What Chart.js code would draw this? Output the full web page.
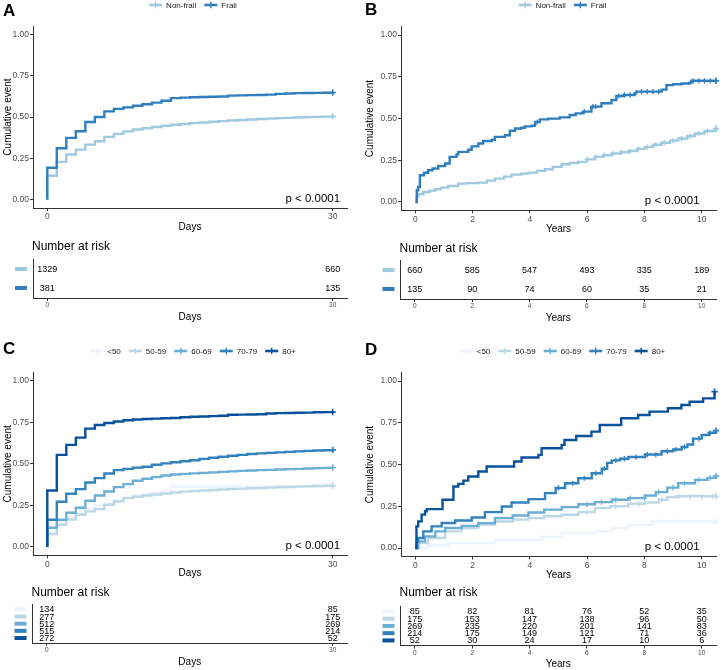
<!DOCTYPE html>
<html><head><meta charset="utf-8">
<script src="https://cdn.jsdelivr.net/npm/chart.js@4.4.1/dist/chart.umd.min.js"></script>
<style>
html,body{margin:0;padding:0;background:#fff;}
body{width:723px;height:670px;position:relative;overflow:hidden;}
canvas{position:absolute;}
</style></head><body>
<canvas id="mA"></canvas><canvas id="tA"></canvas>
<canvas id="mB"></canvas><canvas id="tB"></canvas>
<canvas id="mC"></canvas><canvas id="tC"></canvas>
<canvas id="mD"></canvas><canvas id="tD"></canvas>
<script>
// ---------------- DATA ----------------
const groupsFrailty = ['Non-frail', 'Frail'];
const groupsAge = ['<50', '50-59', '60-69', '70-79', '80+'];
const colorsFrailty = ['#9ecae1', '#2f7fbf'];
const colorsAge = ['#eff3ff', '#bdd7e7', '#6baed6', '#3182bd', '#08519c'];
const yTicks = [0, 0.25, 0.5, 0.75, 1];
const daysTicks = [0, 30];
const yearsTicks = [0, 2, 4, 6, 8, 10];
const pvalText = 'p < 0.0001';

// Panel A: 30-day cumulative event by frailty
const aTimes = [0,0,1,2,3,4,5,6,7,8,9,10,11,12,13,14,15,16,17,18,19,20,21,22,23,24,25,26,27,28,29,30];
const aNonFrail = [0,0.145,0.229,0.273,0.303,0.333,0.353,0.380,0.398,0.413,0.424,0.432,0.440,0.447,0.453,0.458,0.463,0.467,0.471,0.475,0.479,0.482,0.485,0.488,0.490,0.493,0.495,0.497,0.499,0.501,0.502,0.504];
const aFrail = [0,0.193,0.311,0.374,0.414,0.470,0.500,0.534,0.549,0.558,0.568,0.577,0.587,0.598,0.614,0.617,0.619,0.621,0.622,0.624,0.629,0.631,0.632,0.633,0.635,0.640,0.642,0.644,0.645,0.646,0.647,0.648];

// Panel B: long-term cumulative event by frailty
const bNonFrailTimes = [0,0.05,0.1,0.28,0.5,0.69,0.9,1.15,1.5,1.8,2.2,2.5,2.78,3.1,3.36,3.7,3.95,4.25,4.53,4.8,5.11,5.4,5.69,6.0,6.27,6.55,6.86,7.15,7.44,7.75,8.02,8.3,8.6,8.9,9.18,9.5,9.77,10.1,10.5];
const bNonFrail = [0,0.03,0.046,0.06,0.068,0.076,0.086,0.096,0.11,0.113,0.116,0.128,0.14,0.152,0.164,0.17,0.176,0.186,0.196,0.21,0.226,0.233,0.24,0.255,0.27,0.28,0.29,0.298,0.305,0.318,0.33,0.343,0.355,0.368,0.38,0.395,0.41,0.425,0.44];
const bFrailTimes = [0,0.05,0.1,0.16,0.3,0.45,0.6,0.8,1.04,1.2,1.44,1.5,1.85,1.97,2.2,2.37,2.67,2.78,3.13,3.3,3.48,3.7,3.83,4.06,4.18,4.35,4.64,5.04,5.39,5.6,5.85,6.15,6.5,6.85,7.02,7.3,7.66,7.72,8.6,8.77,9.0,9.3,9.58,9.64,10.5];
const bFrail = [0,0.07,0.09,0.16,0.175,0.19,0.2,0.215,0.23,0.27,0.285,0.30,0.313,0.333,0.35,0.365,0.373,0.39,0.40,0.427,0.44,0.445,0.453,0.457,0.479,0.495,0.499,0.507,0.521,0.531,0.541,0.571,0.591,0.611,0.635,0.641,0.651,0.661,0.673,0.70,0.705,0.71,0.714,0.726,0.726];
const bNonFrailCensorTimes = [6.0,6.3,6.6,6.9,7.2,7.5,7.8,8.1,8.4,8.7,9.0,9.3,9.6,9.9,10.2,10.5];
const bNonFrailCensor = [0.255,0.27,0.28,0.29,0.298,0.305,0.318,0.33,0.343,0.355,0.368,0.38,0.395,0.41,0.425,0.44];
const bFrailCensorTimes = [4.25,5.9,6.2,6.3,7.1,7.3,7.5,7.9,8.1,8.3,8.5,9.7,9.9,10.1,10.3,10.5];
const bFrailCensor = [0.479,0.541,0.571,0.571,0.635,0.641,0.641,0.661,0.661,0.661,0.661,0.726,0.726,0.726,0.726,0.726];

// Panel C: 30-day cumulative event by age group
const cTimes = [0,0,1,2,3,4,5,6,7,8,9,10,11,12,13,14,15,16,17,18,19,20,21,22,23,24,25,26,27,28,29,30];
const cLt50 = [0,0.090,0.150,0.180,0.200,0.230,0.250,0.260,0.280,0.300,0.310,0.320,0.330,0.340,0.365,0.365,0.365,0.365,0.365,0.365,0.365,0.365,0.365,0.365,0.365,0.365,0.365,0.365,0.365,0.365,0.365,0.365];
const c50to59 = [0,0.078,0.134,0.165,0.194,0.214,0.228,0.254,0.274,0.294,0.302,0.310,0.316,0.322,0.328,0.333,0.337,0.340,0.343,0.346,0.349,0.351,0.353,0.355,0.357,0.359,0.361,0.363,0.365,0.367,0.368,0.370];
const c60to69 = [0,0.116,0.164,0.206,0.236,0.278,0.310,0.334,0.360,0.378,0.398,0.410,0.420,0.430,0.436,0.440,0.443,0.446,0.449,0.452,0.455,0.458,0.460,0.462,0.464,0.466,0.468,0.470,0.472,0.474,0.476,0.478];
const c70to79 = [0,0.164,0.272,0.320,0.348,0.388,0.414,0.442,0.462,0.470,0.477,0.483,0.495,0.503,0.510,0.516,0.522,0.530,0.537,0.543,0.549,0.554,0.559,0.563,0.566,0.569,0.572,0.575,0.578,0.580,0.582,0.584];
const c80plus = [0,0.340,0.554,0.614,0.658,0.712,0.734,0.746,0.755,0.762,0.767,0.770,0.772,0.774,0.776,0.780,0.783,0.785,0.787,0.789,0.795,0.796,0.797,0.798,0.803,0.805,0.806,0.807,0.808,0.810,0.811,0.812];

// Panel D: long-term cumulative event by age group
const dLt50Times = [0,0.45,1.15,2.78,4.41,5.11,6.27,6.86,7.44,8.25,10.5];
const dLt50 = [0,0.014,0.03,0.05,0.066,0.09,0.1,0.12,0.139,0.159,0.159];
const d50to59Times = [0,0.1,0.45,1.04,1.62,2.2,2.78,3.4,3.95,4.5,5.11,5.7,6.27,6.8,7.44,8.02,8.5,8.8,9.1,10.5];
const d50to59 = [0,0.03,0.06,0.10,0.12,0.14,0.159,0.17,0.179,0.19,0.199,0.215,0.239,0.25,0.265,0.273,0.289,0.305,0.31,0.31];
const d60to69Times = [0,0.1,0.34,0.7,1.04,1.62,2.2,2.78,3.4,3.95,4.5,5.11,5.69,6.27,6.86,7.44,8.02,8.4,8.8,9.18,9.77,10.2,10.5];
const d60to69 = [0,0.04,0.07,0.1,0.12,0.133,0.149,0.179,0.195,0.213,0.23,0.245,0.262,0.275,0.289,0.299,0.315,0.335,0.362,0.388,0.408,0.42,0.432];
const d70to79Times = [0,0.05,0.1,0.28,0.57,0.92,1.39,1.97,2.43,3.02,3.36,3.95,4.53,4.9,5.23,5.69,6.16,6.51,6.7,6.86,7.15,7.44,8.02,8.6,9.0,9.3,9.5,9.7,10.0,10.25,10.5];
const d70to79 = [0,0.04,0.06,0.1,0.13,0.15,0.165,0.183,0.215,0.249,0.273,0.293,0.329,0.36,0.388,0.418,0.448,0.475,0.51,0.525,0.535,0.545,0.56,0.58,0.59,0.605,0.62,0.655,0.677,0.69,0.703];
const d80plusTimes = [0,0.04,0.1,0.22,0.34,0.4,0.95,1.33,1.5,1.68,1.85,2.2,2.49,3.45,3.71,4.3,4.41,5.11,5.21,5.62,6.15,6.44,7.19,7.78,8.18,8.82,9.29,9.58,10.05,10.45];
const d80plus = [0,0.13,0.16,0.2,0.22,0.233,0.289,0.369,0.384,0.404,0.428,0.458,0.488,0.518,0.542,0.558,0.598,0.618,0.647,0.671,0.697,0.737,0.777,0.797,0.817,0.837,0.857,0.876,0.896,0.936];
const dLt50CensorTimes = [7.0,7.8,8.6,9.2,9.8,10.4];
const dLt50Censor = [0.12,0.139,0.159,0.159,0.159,0.159];
const d50to59CensorTimes = [6.0,7.0,7.8,8.6,9.2,9.6,10.0,10.4];
const d50to59Censor = [0.215,0.25,0.265,0.289,0.31,0.31,0.31,0.31];
const d60to69CensorTimes = [6.0,6.5,7.0,7.5,8.0,8.5,9.0,9.4,9.9,10.3];
const d60to69Censor = [0.262,0.275,0.289,0.299,0.299,0.335,0.362,0.388,0.408,0.42];
const d70to79CensorTimes = [5.0,5.5,5.9,6.3,6.6,7.0,7.3,7.7,8.1,8.4,8.8,9.1,9.4,9.9,10.3];
const d70to79Censor = [0.36,0.388,0.418,0.448,0.475,0.525,0.535,0.545,0.56,0.56,0.58,0.59,0.605,0.655,0.69];

// Numbers at risk
const riskDaysTimes = [0, 30];
const riskYearsTimes = [0, 2, 4, 6, 8, 10];
const riskA = [[1329, 660], [381, 135]];
const riskB = [[660, 585, 547, 493, 335, 189], [135, 90, 74, 60, 35, 21]];
const riskC = [[134, 85], [277, 175], [512, 269], [515, 214], [272, 52]];
const riskD = [[85, 82, 81, 76, 52, 35], [175, 153, 147, 138, 96, 50], [269, 235, 220, 201, 141, 83], [214, 175, 149, 121, 71, 36], [52, 30, 24, 17, 10, 6]];

// ---------------- RENDERING ----------------
const FONT = '"Liberation Sans", Arial, Helvetica, sans-serif';
Chart.defaults.font.family = FONT;
const AXIS = '#333333';
const TICKTXT = '#4d4d4d';

function place(id, left, top, w, h) {
  const cv = document.getElementById(id);
  cv.width = w; cv.height = h;
  cv.style.left = left + 'px'; cv.style.top = top + 'px';
  cv.style.width = w + 'px'; cv.style.height = h + 'px';
  return cv;
}
const pts = (t, v) => t.map((x, i) => ({ x: x, y: v[i] }));

function xScale(p, tickSize, titleY, h) {
  return {
    type: 'linear', min: p.xMin, max: p.xMax,
    afterBuildTicks: s => { s.ticks = p.xTicks.map(v => ({ value: v })); },
    afterFit: s => { s.height = h - p.area.b; },
    grid: { display: true, drawOnChartArea: false, drawTicks: true, tickLength: 3, color: AXIS, lineWidth: 1 },
    border: { display: true, color: AXIS, width: 1 },
    ticks: { font: { size: tickSize }, color: TICKTXT, padding: tickSize < 8 ? 0.5 : 1, maxRotation: 0, autoSkip: false },
    title: { display: true, text: p.xTitle, font: { size: 10 }, color: '#000', padding: { top: 0, bottom: Math.max(0, h - titleY - 6) } }
  };
}

function makeMain(p) {
  const cv = place(p.id, p.left, p.top, p.w, p.h);
  const n = p.series.length;
  const datasets = p.series.map((s, i) => ({
    type: 'line', label: s.label, data: pts(s.t, s.v),
    borderColor: s.color, backgroundColor: s.color, borderWidth: 2.4, stepped: 'before', fill: false,
    pointStyle: 'cross', pointRadius: ctx => (ctx.dataIndex === s.t.length - 1 ? 3.2 : 0),
    pointBorderColor: s.color, pointBorderWidth: 1.6, pointHoverRadius: 0,
    order: 2 * (n - i), clip: 4
  }));
  (p.censors || []).forEach(c => datasets.push({
    type: 'scatter', label: '', data: pts(c.t, c.v), showLine: false,
    pointStyle: 'cross', pointRadius: 2.6, pointBorderColor: c.color, borderColor: c.color,
    pointBorderWidth: 1.3, pointHoverRadius: 0, order: 2 * (n - c.idx) - 1, clip: 4
  }));
  const extras = {
    id: 'extras_' + p.id,
    afterDraw(chart) {
      const ctx = chart.ctx, ca = chart.chartArea;
      ctx.save();
      // panel letter
      ctx.fillStyle = '#000'; ctx.font = 'bold 17px ' + FONT;
      ctx.textAlign = 'left'; ctx.textBaseline = 'alphabetic';
      ctx.fillText(p.letter, 3, p.letterY);
      // legend
      ctx.font = '8px ' + FONT; ctx.textBaseline = 'middle';
      const LW = 13, G1 = 4, G2 = 8;
      const items = p.series.map(s => ({ label: s.label, color: s.color, w: ctx.measureText(s.label).width }));
      const total = items.reduce((a, it) => a + LW + G1 + it.w, 0) + G2 * (items.length - 1);
      let x = (ca.left + ca.right) / 2 + p.legendShift - total / 2;
      const y = p.legendY;
      items.forEach(it => {
        ctx.strokeStyle = it.color; ctx.lineWidth = 2.6;
        ctx.beginPath(); ctx.moveTo(x, y); ctx.lineTo(x + LW, y); ctx.stroke();
        ctx.lineWidth = 1.4;
        ctx.beginPath(); ctx.moveTo(x + LW / 2, y - 3.2); ctx.lineTo(x + LW / 2, y + 3.2); ctx.stroke();
        ctx.fillStyle = '#1a1a1a';
        ctx.fillText(it.label, x + LW + G1, y + 0.5);
        x += LW + G1 + it.w + G2;
      });
      // p-value
      ctx.font = '11.5px ' + FONT; ctx.fillStyle = '#000'; ctx.textAlign = 'center'; ctx.textBaseline = 'middle';
      ctx.fillText(pvalText, chart.scales.x.getPixelForValue(p.pvalX), chart.scales.y.getPixelForValue(0.005));
      ctx.restore();
    }
  };
  return new Chart(cv, {
    data: { datasets },
    options: {
      responsive: false, animation: false, devicePixelRatio: 1, events: [],
      layout: { autoPadding: false, padding: { left: 0, top: p.area.t, right: p.w - p.area.r, bottom: 0 } },
      plugins: { legend: { display: false }, tooltip: { enabled: false }, title: { display: false } },
      scales: {
        x: xScale(p, 8.5, p.xTitleY, p.h),
        y: {
          type: 'linear', min: -0.05, max: 1.05,
          afterBuildTicks: s => { s.ticks = yTicks.map(v => ({ value: v })); },
          afterFit: s => { s.width = p.area.l; },
          grid: { display: true, drawOnChartArea: false, drawTicks: true, tickLength: 3, color: AXIS, lineWidth: 1 },
          border: { display: true, color: AXIS, width: 1 },
          ticks: { font: { size: 8.5 }, color: TICKTXT, padding: 1, callback: v => Number(v).toFixed(2) },
          title: { display: true, text: 'Cumulative event', font: { size: 10 }, color: '#000', padding: { top: 2, bottom: 0 } }
        }
      }
    },
    plugins: [extras]
  });
}

function makeTable(p) {
  const cv = place(p.id, p.left, p.top, p.w, p.h);
  const n = p.rows.length;
  const datasets = p.rows.map((r, i) => ({
    type: 'scatter', label: p.labels[i], data: p.times.map(t => ({ x: t, y: n - i })),
    pointRadius: 0, showLine: false, borderColor: p.colors[i]
  }));
  const extras = {
    id: 'table_' + p.id,
    afterDraw(chart) {
      const ctx = chart.ctx, ca = chart.chartArea;
      ctx.save();
      ctx.fillStyle = '#000'; ctx.font = '12px ' + FONT; ctx.textAlign = 'left'; ctx.textBaseline = 'middle';
      ctx.fillText('Number at risk', ca.left - 1, p.titleY);
      ctx.font = '9px ' + FONT; ctx.textAlign = 'center';
      p.rows.forEach((r, i) => {
        const meta = chart.getDatasetMeta(i);
        const yPix = chart.scales.y.getPixelForValue(n - i);
        ctx.fillStyle = p.colors[i];
        ctx.fillRect(ca.left - 18, yPix - 2, 12, 4);
        ctx.fillStyle = '#000';
        meta.data.forEach((el, j) => ctx.fillText(String(r[j]), el.x, el.y + 0.5));
      });
      ctx.restore();
    }
  };
  return new Chart(cv, {
    data: { datasets },
    options: {
      responsive: false, animation: false, devicePixelRatio: 1, events: [],
      layout: { autoPadding: false, padding: { left: 0, top: p.area.t, right: p.w - p.area.r, bottom: 0 } },
      plugins: { legend: { display: false }, tooltip: { enabled: false }, title: { display: false } },
      scales: {
        x: xScale(p, 6.5, p.xTitleY, p.h),
        y: {
          type: 'linear', min: p.yMin, max: p.yMax,
          afterFit: s => { s.width = p.area.l; },
          grid: { display: false },
          border: { display: true, color: AXIS, width: 1 },
          ticks: { display: false }
        }
      }
    },
    plugins: [extras]
  });
}

// ---------- Panel A ----------
makeMain({
  id: 'mA', left: 0, top: 0, w: 362, h: 235, area: { l: 33, r: 347, t: 26, b: 208 },
  xMin: -1.5, xMax: 31.5, xTicks: daysTicks, xTitle: 'Days', xTitleY: 227,
  letter: 'A', letterY: 16, legendY: 5, legendShift: 3, pvalX: 27.9,
  series: [
    { label: groupsFrailty[0], color: colorsFrailty[0], t: aTimes, v: aNonFrail },
    { label: groupsFrailty[1], color: colorsFrailty[1], t: aTimes, v: aFrail }
  ]
});
makeTable({
  id: 'tA', left: 0, top: 235, w: 362, h: 90, area: { l: 33, r: 347, t: 24, b: 63 },
  xMin: -1.5, xMax: 31.5, xTicks: daysTicks, xTitle: 'Days', xTitleY: 82,
  yMin: 0.47, yMax: 2.53, titleY: 12,
  times: riskDaysTimes, rows: riskA, labels: groupsFrailty, colors: colorsFrailty
});

// ---------- Panel B ----------
makeMain({
  id: 'mB', left: 362, top: 0, w: 361, h: 236, area: { l: 39, r: 354, t: 26.7, b: 210.3 },
  xMin: -0.5, xMax: 10.5, xTicks: yearsTicks, xTitle: 'Years', xTitleY: 229,
  letter: 'B', letterY: 15, legendY: 5, legendShift: 4, pvalX: 8.97,
  series: [
    { label: groupsFrailty[0], color: colorsFrailty[0], t: bNonFrailTimes, v: bNonFrail },
    { label: groupsFrailty[1], color: colorsFrailty[1], t: bFrailTimes, v: bFrail }
  ],
  censors: [
    { idx: 0, color: colorsFrailty[0], t: bNonFrailCensorTimes, v: bNonFrailCensor },
    { idx: 1, color: colorsFrailty[1], t: bFrailCensorTimes, v: bFrailCensor }
  ]
});
makeTable({
  id: 'tB', left: 362, top: 236, w: 361, h: 89, area: { l: 38.5, r: 354, t: 24, b: 63 },
  xMin: -0.5, xMax: 10.5, xTicks: yearsTicks, xTitle: 'Years', xTitleY: 82,
  yMin: 0.47, yMax: 2.53, titleY: 13,
  times: riskYearsTimes, rows: riskB, labels: groupsFrailty, colors: colorsFrailty
});

// ---------- Panel C ----------
makeMain({
  id: 'mC', left: 0, top: 330, w: 362, h: 250, area: { l: 33, r: 347, t: 42.4, b: 225.3 },
  xMin: -1.5, xMax: 31.5, xTicks: daysTicks, xTitle: 'Days', xTitleY: 243,
  letter: 'C', letterY: 24, legendY: 21, legendShift: 3, pvalX: 27.9,
  series: [
    { label: groupsAge[0], color: colorsAge[0], t: cTimes, v: cLt50 },
    { label: groupsAge[1], color: colorsAge[1], t: cTimes, v: c50to59 },
    { label: groupsAge[2], color: colorsAge[2], t: cTimes, v: c60to69 },
    { label: groupsAge[3], color: colorsAge[3], t: cTimes, v: c70to79 },
    { label: groupsAge[4], color: colorsAge[4], t: cTimes, v: c80plus }
  ]
});
makeTable({
  id: 'tC', left: 0, top: 580, w: 362, h: 90, area: { l: 32.5, r: 347, t: 24, b: 63 },
  xMin: -1.5, xMax: 31.5, xTicks: daysTicks, xTitle: 'Days', xTitleY: 82,
  yMin: 0.3, yMax: 5.75, titleY: 13,
  times: riskDaysTimes, rows: riskC, labels: groupsAge, colors: colorsAge
});

// ---------- Panel D ----------
makeMain({
  id: 'mD', left: 362, top: 330, w: 361, h: 252, area: { l: 39, r: 354, t: 42.7, b: 226.4 },
  xMin: -0.5, xMax: 10.5, xTicks: yearsTicks, xTitle: 'Years', xTitleY: 245,
  letter: 'D', letterY: 25, legendY: 21, legendShift: 4, pvalX: 8.97,
  series: [
    { label: groupsAge[0], color: colorsAge[0], t: dLt50Times, v: dLt50 },
    { label: groupsAge[1], color: colorsAge[1], t: d50to59Times, v: d50to59 },
    { label: groupsAge[2], color: colorsAge[2], t: d60to69Times, v: d60to69 },
    { label: groupsAge[3], color: colorsAge[3], t: d70to79Times, v: d70to79 },
    { label: groupsAge[4], color: colorsAge[4], t: d80plusTimes, v: d80plus }
  ],
  censors: [
    { idx: 0, color: colorsAge[0], t: dLt50CensorTimes, v: dLt50Censor },
    { idx: 1, color: colorsAge[1], t: d50to59CensorTimes, v: d50to59Censor },
    { idx: 2, color: colorsAge[2], t: d60to69CensorTimes, v: d60to69Censor },
    { idx: 3, color: colorsAge[3], t: d70to79CensorTimes, v: d70to79Censor }
  ]
});
makeTable({
  id: 'tD', left: 362, top: 582, w: 361, h: 88, area: { l: 38.5, r: 354, t: 24, b: 63.5 },
  xMin: -0.5, xMax: 10.5, xTicks: yearsTicks, xTitle: 'Years', xTitleY: 82,
  yMin: 0.3, yMax: 5.75, titleY: 11,
  times: riskYearsTimes, rows: riskD, labels: groupsAge, colors: colorsAge
});
</script>
</body></html>
